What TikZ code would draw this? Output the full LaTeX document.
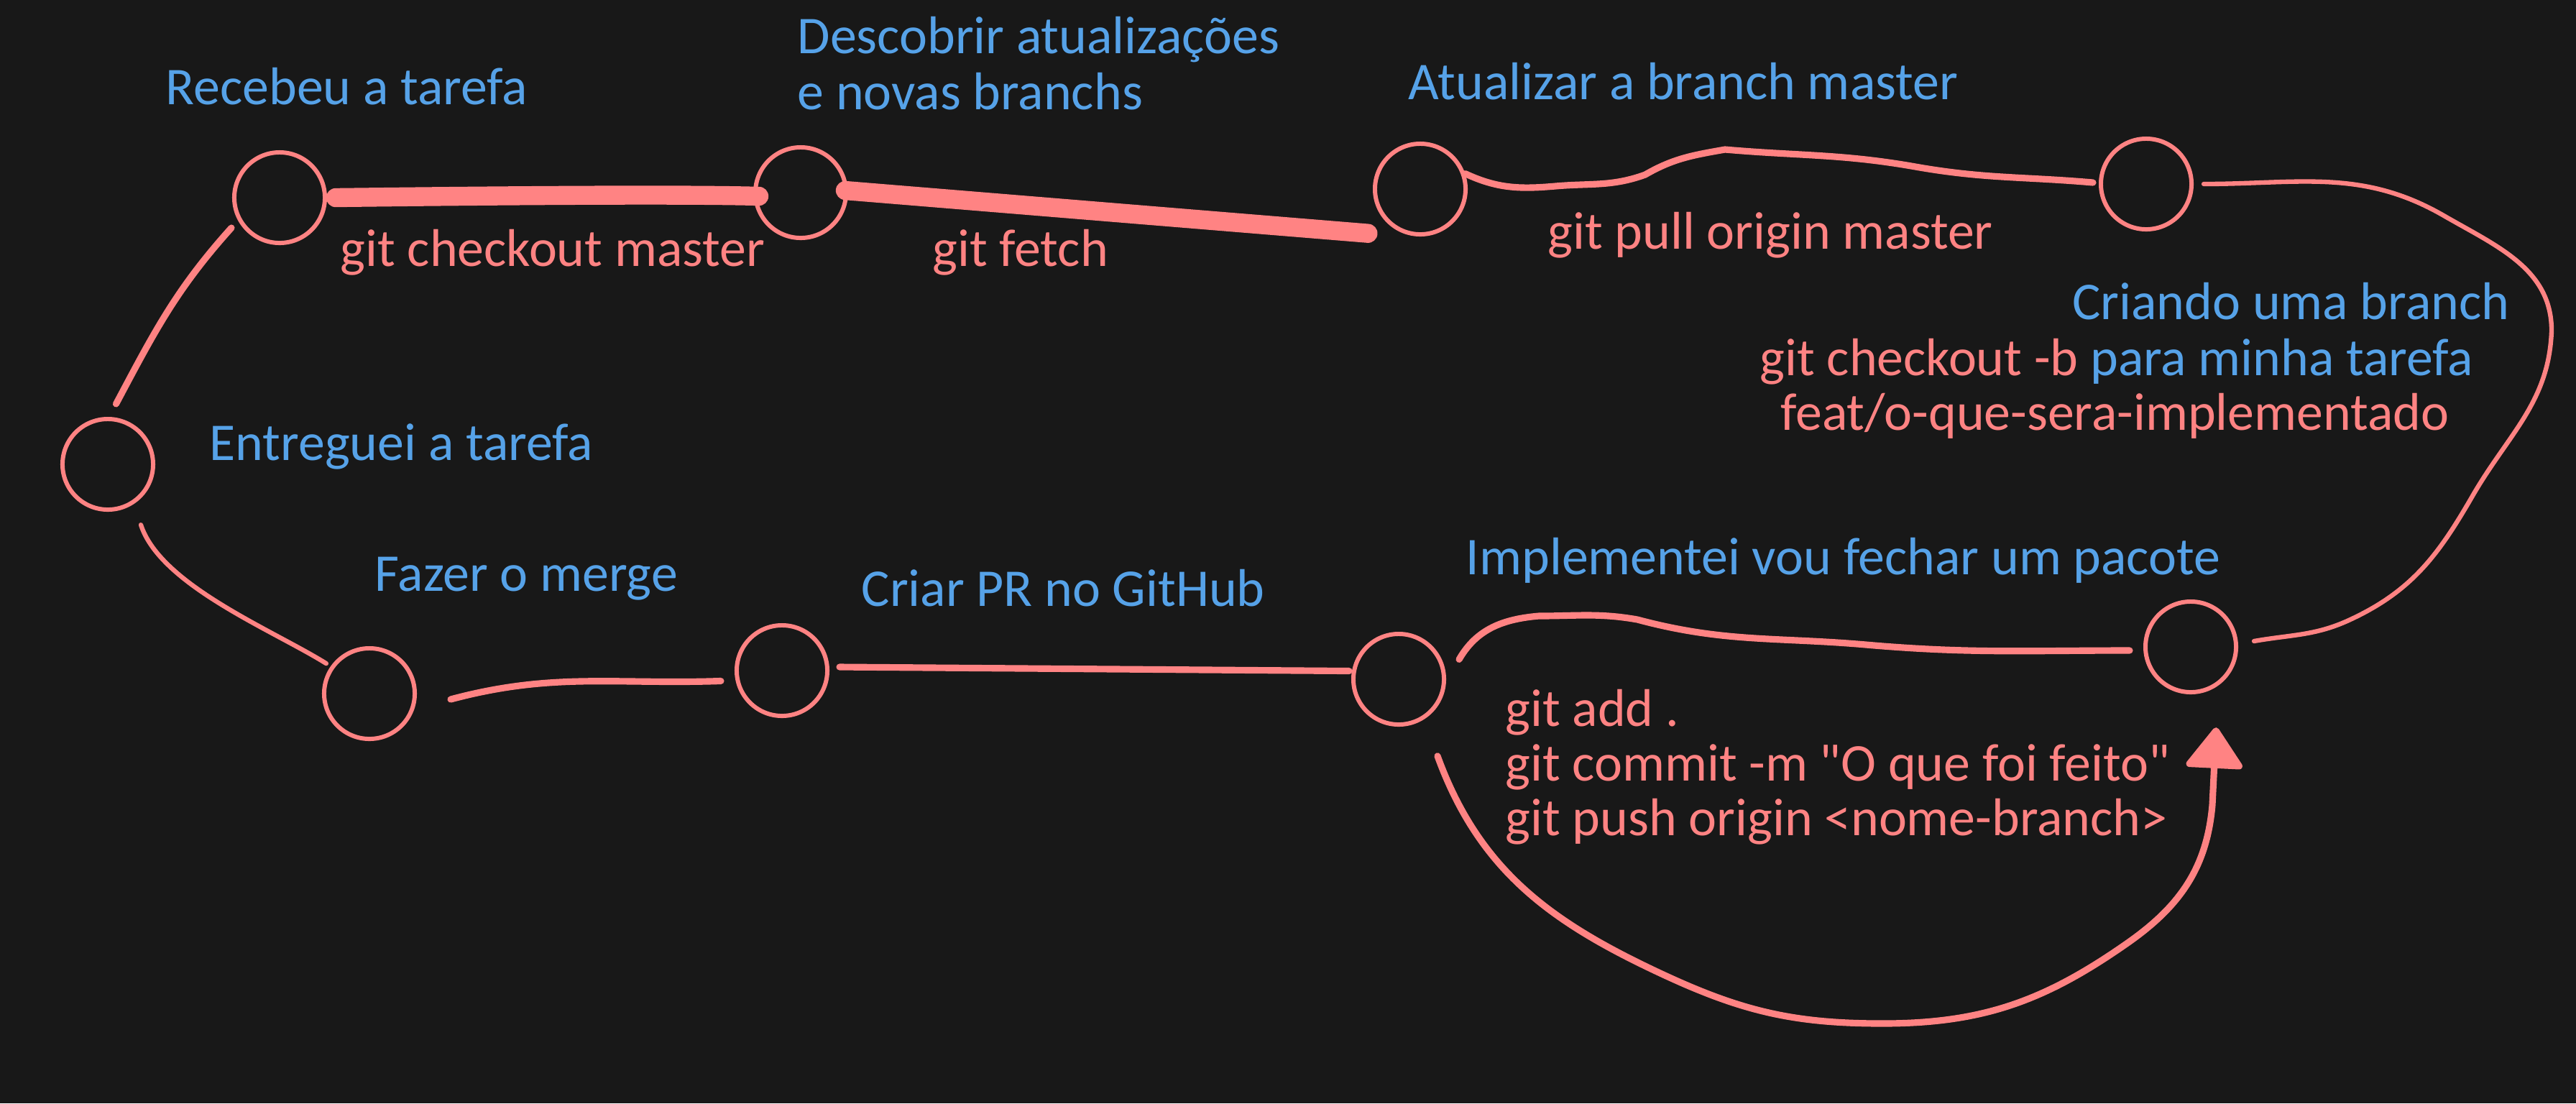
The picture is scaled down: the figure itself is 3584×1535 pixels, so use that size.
\documentclass[tikz,border=0pt]{standalone}
\usepackage{fontspec}
\setmainfont{Carlito}
\newfontfamily\rawfont{Carlito}
\usetikzlibrary{positioning}
\usetikzlibrary{arrows.meta}
\definecolor{bgdark}{HTML}{181818}
\definecolor{sketchred}{HTML}{FF8383}
\definecolor{sketchblue}{HTML}{56A2E8}
\tikzset{
    mynode/.style = {circle, draw=sketchred, line width=1.7pt, minimum size=1.26cm, inner sep=0pt},
    mytextb/.style = {anchor=base west, inner sep=0pt, text=sketchblue, align=left},
    mytextr/.style = {anchor=base west, inner sep=0pt, text=sketchred, align=left},
    edgek/.style = {-, line width=7.5pt, sketchred, line cap=round}, % heavy
    edgem/.style = {-, line width=2.6pt, sketchred, line cap=round},
    edgen/.style = {-, line width=1.8pt, sketchred, line cap=round},
    edgea/.style = {-{Triangle[width=0.85cm,length=0.6cm,round]}, line width=2.6pt, sketchred, line cap=round}, % loop
}

\begin{document}
\begin{tikzpicture}[
    x=0.01cm, y=-0.01cm,
    font=\fontsize{21}{22}\selectfont]

  \fill[bgdark] (0,0) rectangle (3584,1535);
  \useasboundingbox (0,0) rectangle (3584,1535);

  % commits
  \node[mynode] (c1) at (389,275) {};
  \node[mynode] (c2) at (1114,268) {};
  \node[mynode] (c3) at (1976,263) {};
  \node[mynode] (c4) at (2986,256) {};
  \node[mynode] (c5) at (150,646) {};
  \node[mynode] (c6) at (514,965) {};
  \node[mynode] (c7) at (1088,933) {};
  \node[mynode] (c8) at (1946,945) {};
  \node[mynode] (c9) at (3048,900) {};

  % labels (base = last line)
  \node[mytextb] (t1) at (230,145) {Recebeu a tarefa};
  \node[mytextb] (t2) at (1109,152) {Descobrir atualizações\\e novas branchs};
  \node[mytextb] (t3) at (1959,138) {Atualizar a branch master};
  \node[mytextr] (g1) at (473,370) {git checkout master};
  \node[mytextr] (g2) at (1297,370) {git fetch};
  \node[mytextr] (g3) at (2153,346) {git pull origin master};
  \node[mytextb, anchor=base east] (t4) at (3492,444) {Criando uma branch};
  \node[mytextr] (g4) at (2448,522) {git checkout -b \textcolor{sketchblue}{para minha tarefa}};
  \node[mytextr] (g5) at (2477,598) {feat/o-que-sera-implementado};
  \node[mytextb] (t5) at (291,640) {Entreguei a tarefa};
  \node[mytextb] (t6) at (521,822) {Fazer o merge};
  \node[mytextb] (t7) at (1198,843) {Criar PR no GitHub};
  \node[mytextb] (t8) at (2039,799) {Implementei vou fechar um pacote};
  \node[mytextr, font=\fontsize{21}{21.5}\selectfont] (g6) at (2094,1162) {git add .\\git commit -m {\rawfont"}O que foi feito{\rawfont"}\\git push origin <nome-branch>};

  % edges
  \draw[edgek] ([shift={(12,0)}]c1.east) .. controls (700,272) and (950,270) .. ([shift={(8,5)}]c2.west);
  \draw[edgek] ([shift={(-4,-3)}]c2.east) -- ([shift={(-26,15)}]c3.south west);
  \draw[edgem] (c3.19) to[out=-25,in=185] (2164,259) to[out=5,in=200] (2289,243)
      to[out=30,in=190] (2400,208) to[out=-5,in=170] (2665,232) to[out=-10,in=175] ([shift={(-8,-2)}]c4.west);
  \draw[edgen] ([shift={(14,0)}]c4.east) to[out=0,in=150] (3400,300) to[out=-30,in=90] (3550,460)
      to[out=-92,in=60] (3440,690) to[out=-120,in=25] (3270,862) to[out=205,in=10] ([shift={(22,-8)}]c9.east);
  \draw[edgem] ([shift={(-19,5)}]c9.west) to[out=180,in=-5] (2596,897) to[out=175,in=-15] (2278,862)
      to[out=170,in=0] (2141,857) to[out=185,in=60] ([shift={(22,-5)}]c8.20);
  \draw[edgem] ([shift={(-4,0)}]c8.170) -- ([shift={(14,-5)}]c7.east);
  \draw[edgem] ([shift={(-20,3)}]c7.190) to[out=182,in=15] ([shift={(47,8)}]c6.east);
  \draw[edgen] ([shift={(-6,-4)}]c6.145) to[out=148,in=-72,looseness=0.7] ([shift={(13,27)}]c5.-60);
  \draw[edgem] ([shift={(0,-19)}]c5.80) to[out=62,in=228] ([shift={(-11,7)}]c1.212);
  \draw[edgea] ([shift={(24,48)}]c8.-63) to[out=-70,in=155] (2312,1355) to[out=-25,in=180] (2619,1424)
      to[out=0,in=215] (2960,1312) to[out=35,in=-95] (3078,1120) -- ([shift={(16,49)}]c9.-73);

\end{tikzpicture}
\end{document}
